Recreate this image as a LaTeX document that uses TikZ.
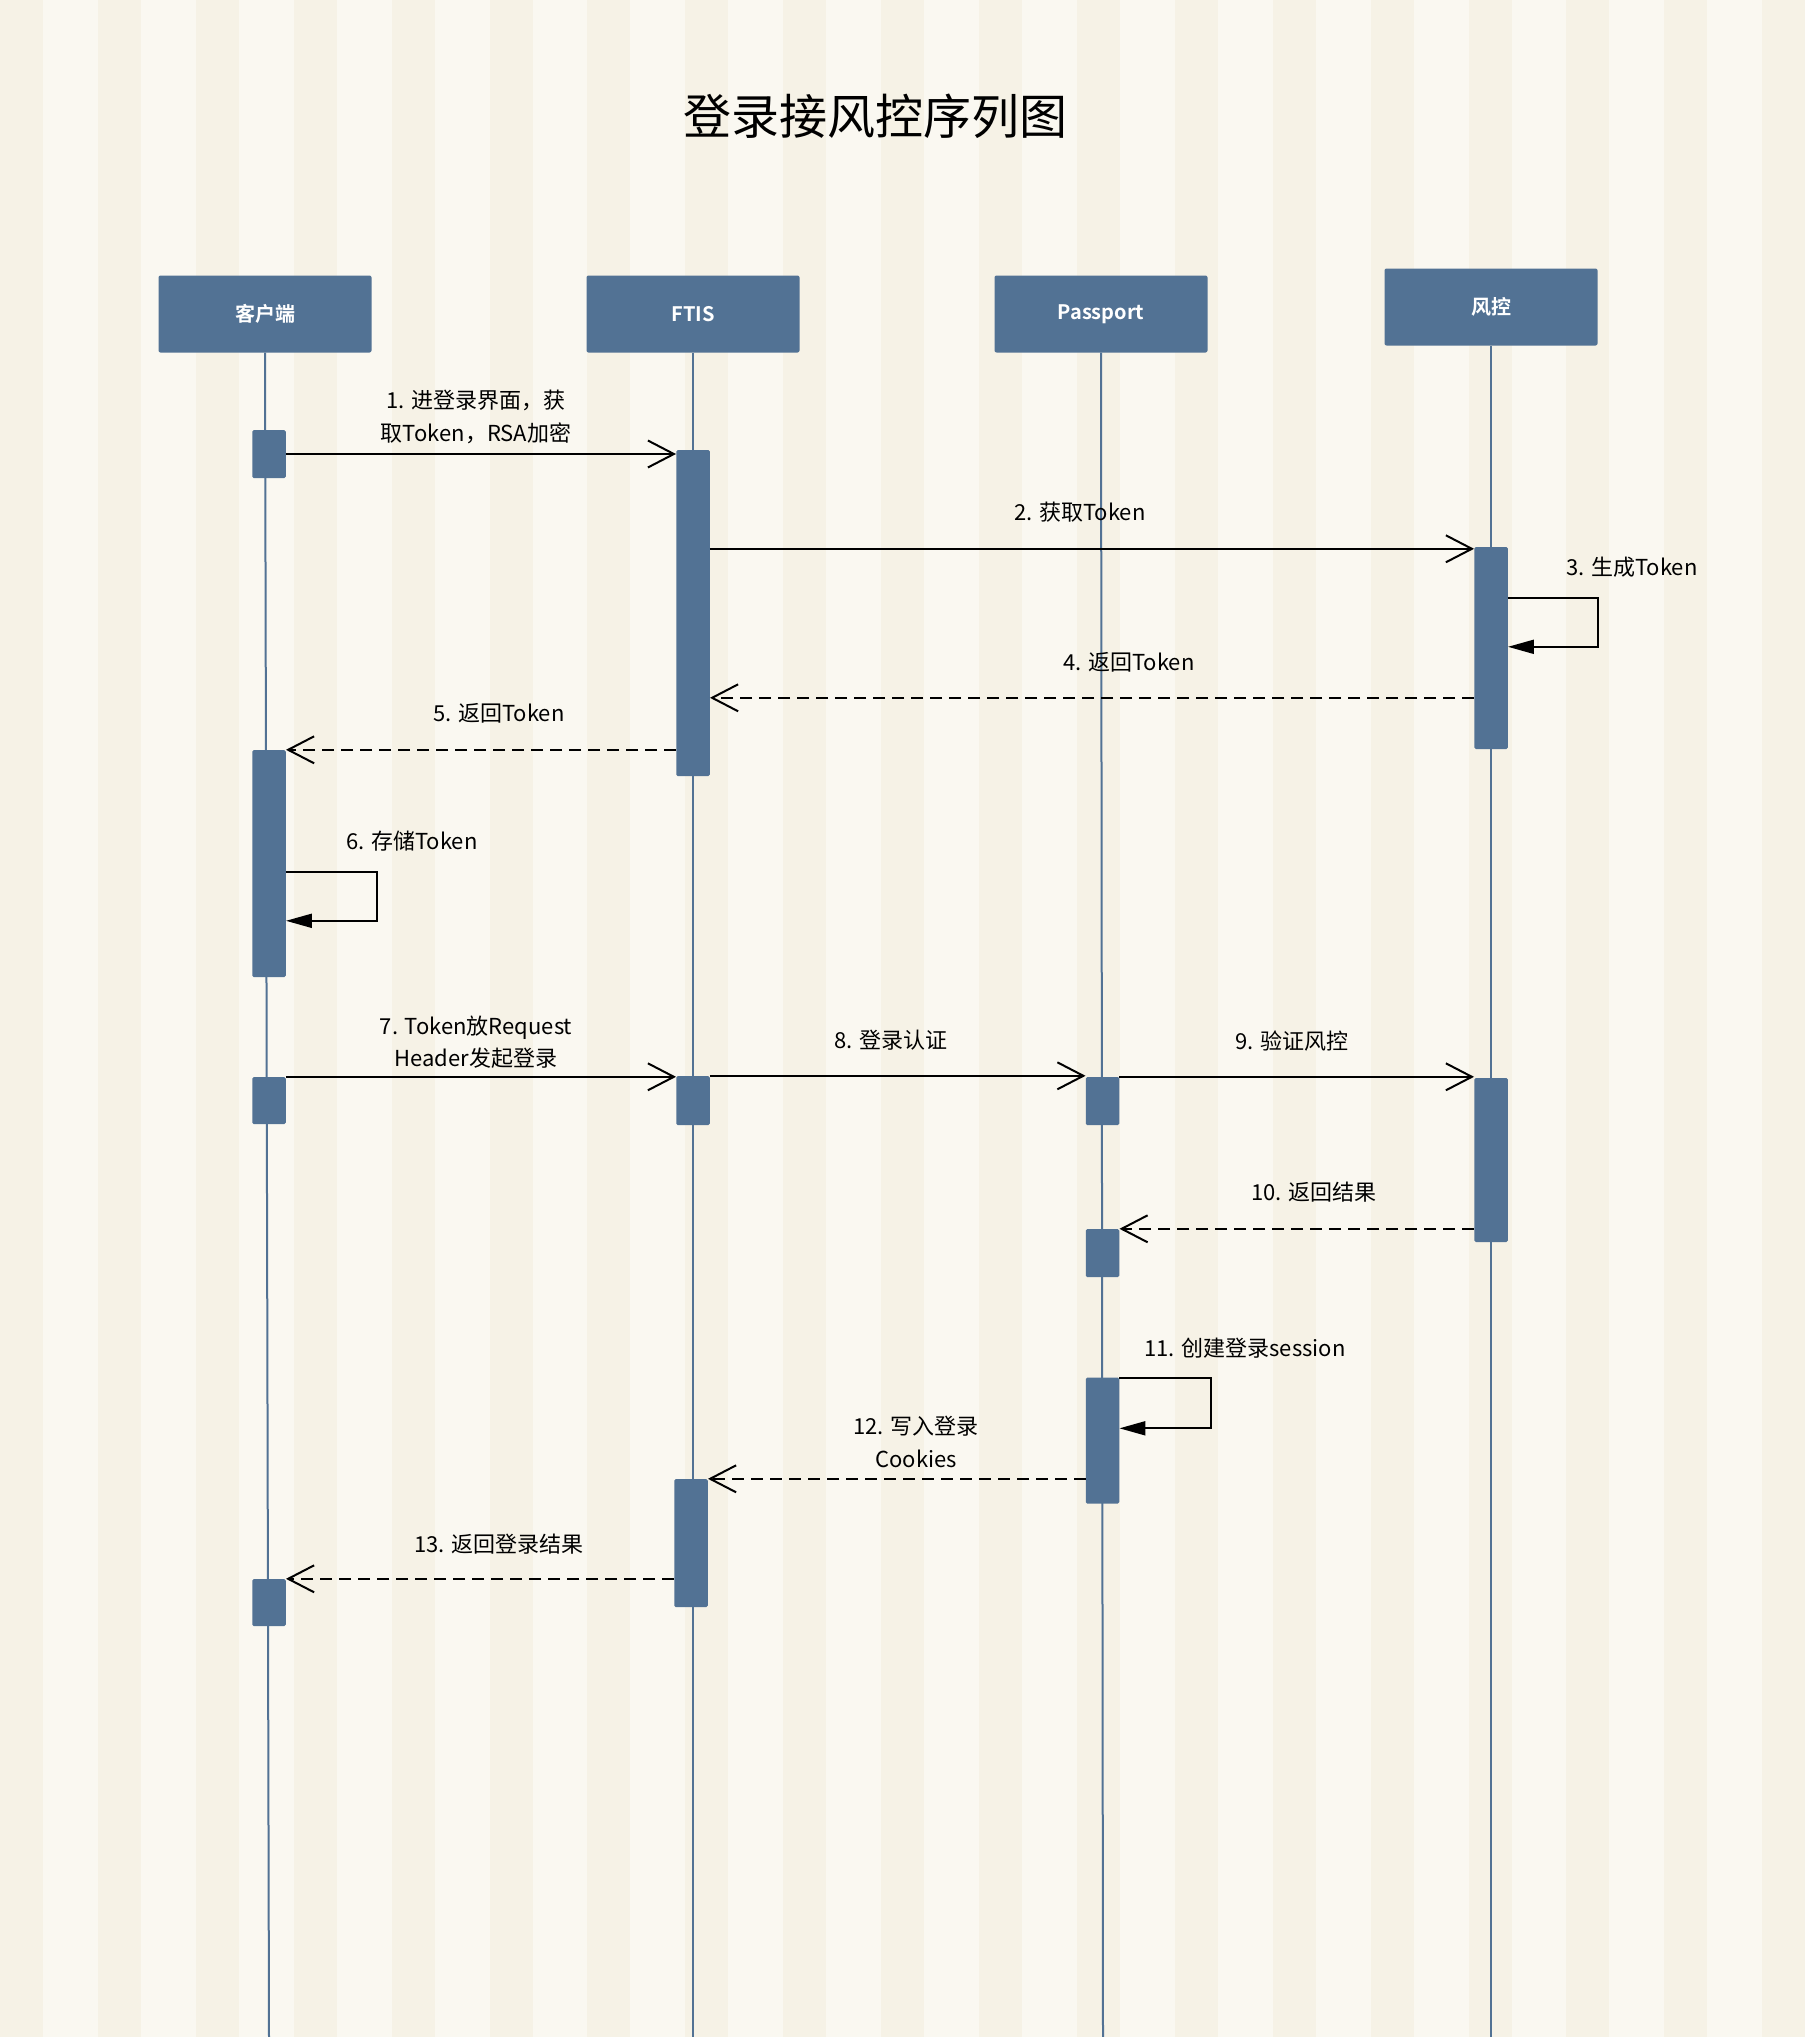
\documentclass[tikz,border=0pt]{standalone}
\usepackage{fontspec}
\setmainfont{Noto Sans CJK SC}[BoldFont={Noto Sans CJK SC Bold}]
\usepackage{tikz}
\usetikzlibrary{arrows.meta,positioning,calc}
\definecolor{SeqBlue}{HTML}{527294}
\definecolor{StripeLight}{HTML}{FAF8F1}
\definecolor{StripeDark}{HTML}{F6F2E6}
\tikzset{
  actor/.style={rectangle,rounded corners=2pt,fill=SeqBlue,text=white,minimum width=213pt,minimum height=77pt,align=center,font=\fontsize{20}{24}\selectfont\bfseries},
  active/.style={rectangle,rounded corners=1.5pt,fill=SeqBlue,minimum width=33.5pt,inner sep=0pt},
  lifeline/.style={draw=SeqBlue,line width=2pt},
  msg/.style={-{Straight Barb[length=26pt,width=27pt]},line width=2pt,color=black},
  reply/.style={msg,dash pattern=on 12pt off 7pt},
  selfmsg/.style={-{Triangle[length=26pt,width=14pt]},line width=2pt,color=black},
  msglabel/.style={align=center,font=\fontsize{22}{32.5}\selectfont,inner sep=0pt},
}
\begin{document}
\begin{tikzpicture}[x=1pt,y=-1pt]
  \useasboundingbox (0,0) rectangle (1805,2037);
  \fill[StripeLight] (0,0) rectangle (1805,2037);
  \foreach \k in {0,...,18}
    \fill[StripeDark] (\k*97.9,0) rectangle ++(43,2037);

  \node[font=\fontsize{48}{58}\selectfont] (title) at (875,116) {登录接风控序列图};

  \node[actor] (client) at (265,314) {客户端};
  \node[actor] (ftis) at (693,314) {FTIS};
  \node[actor] (passport) at (1101,314) {Passport};
  \node[actor] (risk) at (1491,307) {风控};

  \coordinate (clientEnd) at (269,2037);
  \coordinate (ftisEnd) at (693,2037);
  \coordinate (passportEnd) at (1103,2037);
  \coordinate (riskEnd) at (1491,2037);
  \draw[lifeline] (client.south) -- (clientEnd);
  \draw[lifeline] (ftis.south) -- (ftisEnd);
  \draw[lifeline] (passport.south) -- (passportEnd);
  \draw[lifeline] (risk.south) -- (riskEnd);

  \node[active, minimum height=48pt] (client1) at (269,454) {};
  \node[active, minimum height=326pt] (ftis1) at (693,613) {};
  \node[active, minimum height=202pt] (risk1) at (1491,648) {};
  \node[active, minimum height=227pt] (client2) at (269,863.5) {};
  \node[active, minimum height=47pt] (client3) at (269,1100.5) {};
  \node[active, minimum height=49pt] (ftis2) at (693,1100.5) {};
  \node[active, minimum height=48pt] (passport1) at (1102.5,1101) {};
  \node[active, minimum height=164pt] (risk2) at (1491,1160) {};
  \node[active, minimum height=48pt] (passport2) at (1102.5,1253) {};
  \node[active, minimum height=126pt] (passport3) at (1102.5,1440.5) {};
  \node[active, minimum height=128pt] (ftis3) at (691,1543) {};
  \node[active, minimum height=47pt] (client4) at (269,1602.5) {};

  \coordinate (m2) at ([yshift=-2pt]risk1.north west);
  \coordinate (m4) at ([yshift=-151pt]risk1.north west);

  \draw[msg] (client1.east) -- (client1.east -| ftis1.west);
  \draw[msg] (m2 -| ftis1.east) -- (m2);
  \draw[selfmsg] ([yshift=-51pt]risk1.north east) -- ++(90,0) |- ([yshift=-100pt]risk1.north east);
  \draw[reply] (m4) -- (m4 -| ftis1.east);
  \draw[reply] (client2.north east -| ftis1.west) -- (client2.north east);
  \draw[selfmsg] ([yshift=-122pt]client2.north east) -- ++(91,0) |- ([yshift=-171pt]client2.north east);
  \draw[msg] (client3.north east) -- (client3.north east -| ftis2.west);
  \draw[msg] (ftis2.north east) -- (ftis2.north east -| passport1.west);
  \draw[msg] (passport1.north east) -- (passport1.north east -| risk2.west);
  \draw[reply] (passport2.north east -| risk2.west) -- (passport2.north east);
  \draw[selfmsg] ([yshift=-1pt]passport3.north east) -- ++(92,0) |- ([yshift=-51pt]passport3.north east);
  \draw[reply] (ftis3.north east -| passport3.west) -- (ftis3.north east);
  \draw[reply] (client4.north east -| ftis3.west) -- (client4.north east);

  \node[msglabel] (lbl1) at (476,417) {1. 进登录界面，获\\取Token，RSA加密};
  \node[msglabel] (lbl2) at (1080,512) {2. 获取Token};
  \node[msglabel] (lbl3) at (1632,567) {3. 生成Token};
  \node[msglabel] (lbl4) at (1129,662) {4. 返回Token};
  \node[msglabel] (lbl5) at (499,713) {5. 返回Token};
  \node[msglabel] (lbl6) at (412,841) {6. 存储Token};
  \node[msglabel] (lbl7) at (476,1042) {7. Token放Request\\Header发起登录};
  \node[msglabel] (lbl8) at (891,1040) {8. 登录认证};
  \node[msglabel] (lbl9) at (1292,1041) {9. 验证风控};
  \node[msglabel] (lbl10) at (1314,1192) {10. 返回结果};
  \node[msglabel] (lbl11) at (1245,1348) {11. 创建登录session};
  \node[msglabel] (lbl12) at (916,1442) {12. 写入登录\\Cookies};
  \node[msglabel] (lbl13) at (499,1544) {13. 返回登录结果};
\end{tikzpicture}
\end{document}
